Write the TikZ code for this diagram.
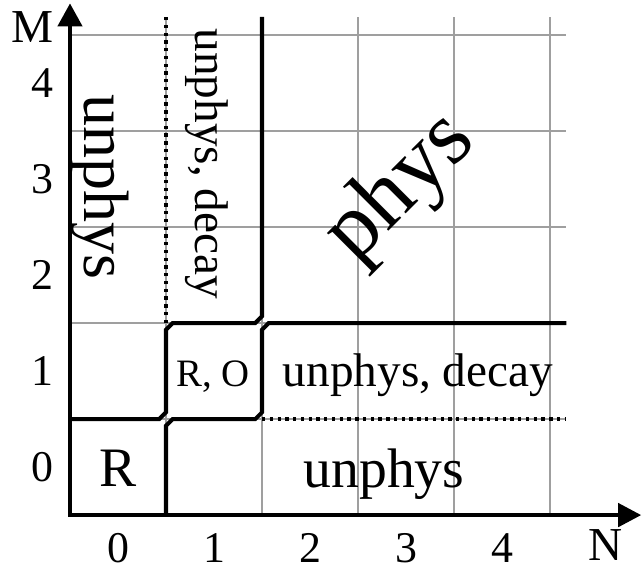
\documentclass[tikz,border=0pt]{standalone}
\usepackage{fontspec}
\setmainfont{Liberation Serif}
\usetikzlibrary{arrows.meta}
\begin{document}
\begin{tikzpicture}[x=1cm,y=1cm,
  gridline/.style={gray!75, line width=0.5pt},
  bound/.style={line width=1.2pt, line join=miter},
  dotline/.style={line width=1pt, dash pattern=on 1pt off 1.3pt},
  axis/.style={line width=1.3pt, line join=miter},
  tick/.style={font=\fontsize{13}{15}\selectfont, inner sep=0pt, anchor=base},
  axlab/.style={font=\fontsize{14}{16}\selectfont, inner sep=0pt, anchor=base},
  big/.style={font=\fontsize{16.5}{19}\selectfont, inner sep=0pt},
  mid/.style={font=\fontsize{14}{16}\selectfont, inner sep=0pt},
  small/.style={font=\fontsize{11.5}{13}\selectfont, inner sep=0pt}]
\useasboundingbox (-0.729,-0.531) rectangle (5.958,5.365);
% grid
\foreach \i in {1,...,5} {
  \draw[gridline] (\i,0) -- (\i,5.19);
  \draw[gridline] (0,\i) -- (5.17,\i);
}
% dotted boundaries
\draw[dotline] (1,2) -- (1,5.2);
\draw[dotline] (2,1) -- (5.17,1);
% solid staircase boundaries
\def\c{0.07}
\draw[bound] (0,1) -- (1-\c,1) -- (1,1+\c) -- (1,2-\c) -- (1+\c,2) -- (2-\c,2) -- (2,2+\c) -- (2,5.19);
\draw[bound] (1,0) -- (1,1-\c) -- (1+\c,1) -- (2-\c,1) -- (2,1+\c) -- (2,2-\c) -- (2+\c,2) -- (5.17,2);
% axes
\draw[axis, {Triangle[length=0.24cm,width=0.25cm]}-{Triangle[length=0.24cm,width=0.24cm]}] (0,5.33) -- (0,0) -- (5.95,0);
% axis labels
\foreach \i in {0,...,4} {
  \node[tick] (nx\i) at (\i+0.5,-0.49) {\i};
  \node[tick] (ny\i) at (-0.29,\i+0.35) {\i};
}
\node[axlab] (N) at (5.58,-0.47) {N};
\node[axlab] (M) at (-0.39,4.92) {M};
% region labels
\node[big, anchor=base] (r) at (0.5,0.30) {R};
\node[big, anchor=base] (u0) at (3.27,0.29) {unphys};
\node[small, anchor=base] (ro) at (1.49,1.34) {R, O};
\node[mid, anchor=base] (ud1) at (3.625,1.34) {unphys, decay};
\node[font=\fontsize{19}{22}\selectfont, inner sep=0pt, rotate=-90] (ul) at (0.31,3.42) {unphys};
\node[mid, rotate=-90] (ud2) at (1.43,3.66) {unphys, decay};
\node[font=\fontsize{27}{31}\selectfont, inner sep=0pt, rotate=45] (ph) at (3.45,3.40) {phys};
\end{tikzpicture}
\end{document}
